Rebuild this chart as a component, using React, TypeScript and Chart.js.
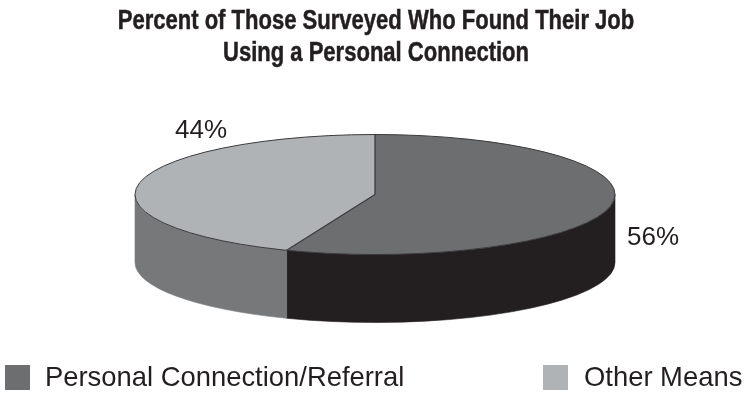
import React, { useEffect, useRef } from "react";
import { Chart, registerables } from "chart.js";

Chart.register(...registerables);

const categories = ["Personal Connection/Referral", "Other Means"];
const shares = [56, 44];
const titleLines = [
  "Percent of Those Surveyed Who Found Their Job",
  "Using a Personal Connection",
];

const topColors = ["#6d6e70", "#b0b3b5"];
const wallColors = ["#231f20", "#77787a"];
const outlineColor = "#3a3a3c";
const textColor = "#231f20";

const RADIUS = 240;
const SQUASH = 0.25;
const DEPTH = 68;
const FONT_FAMILY = '"Liberation Sans", Arial, sans-serif';

// Horizontal compression that gives the heading its condensed look.
const TITLE_CONDENSE = 0.816;
const titleBaselines = [29, 61];

// Offset of each percentage label from the pie's centre.
const labelOffsets = [
  { dx: 278, dy: 43 },
  { dx: -174, dy: -64 },
];
// Left edge of each legend swatch and of its text.
const legendSlots = [
  { box: 5, text: 45 },
  { box: 543, text: 584 },
];

// Side walls and outlines of the tilted pie, read from the arc elements.
const tiltedPie = {
  id: "tiltedPie",
  beforeDatasetsDraw(chart: any) {
    const { ctx } = chart;
    const arcs = chart.getDatasetMeta(0).data;
    arcs.forEach((arc: any, i: number) => {
      const a0 = Math.max(arc.startAngle, 0);
      const a1 = Math.min(arc.endAngle, Math.PI);
      if (a1 <= a0) return;
      const ry = arc.outerRadius * SQUASH;
      ctx.beginPath();
      ctx.ellipse(arc.x, arc.y, arc.outerRadius, ry, 0, a0, a1);
      ctx.ellipse(arc.x, arc.y + DEPTH, arc.outerRadius, ry, 0, a1, a0, true);
      ctx.closePath();
      ctx.fillStyle = wallColors[i];
      ctx.fill();
      ctx.strokeStyle = wallColors[i];
      ctx.lineWidth = 0.6;
      ctx.stroke();
    });
    const { x, y } = arcs[0];
    ctx.save();
    ctx.translate(x, y);
    ctx.scale(1, SQUASH);
    ctx.translate(-x, -y);
  },
  afterDatasetsDraw(chart: any) {
    const { ctx } = chart;
    ctx.restore();
    const arcs = chart.getDatasetMeta(0).data;
    const first = arcs[0];
    const ry = first.outerRadius * SQUASH;
    ctx.strokeStyle = outlineColor;
    ctx.lineWidth = 1;
    ctx.beginPath();
    ctx.ellipse(first.x, first.y, first.outerRadius, ry, 0, 0, Math.PI * 2);
    ctx.stroke();
    ctx.lineWidth = 1.3;
    ctx.beginPath();
    arcs.forEach((arc: any) => {
      ctx.moveTo(arc.x, arc.y);
      ctx.lineTo(
        arc.x + arc.outerRadius * Math.cos(arc.startAngle),
        arc.y + ry * Math.sin(arc.startAngle)
      );
    });
    ctx.stroke();

    // Condensed two-line heading
    ctx.save();
    ctx.fillStyle = textColor;
    ctx.strokeStyle = textColor;
    ctx.lineWidth = 0.5;
    ctx.font = `bold 27px ${FONT_FAMILY}`;
    ctx.textAlign = "center";
    ctx.textBaseline = "alphabetic";
    ctx.translate(first.x + 1, 0);
    ctx.scale(TITLE_CONDENSE, 1);
    titleLines.forEach((line, i) => {
      ctx.fillText(line, 0, titleBaselines[i]);
      ctx.strokeText(line, 0, titleBaselines[i]);
    });
    ctx.restore();

    // Percentage labels
    ctx.fillStyle = textColor;
    ctx.font = `26px ${FONT_FAMILY}`;
    ctx.textAlign = "center";
    ctx.textBaseline = "middle";
    arcs.forEach((arc: any, i: number) => {
      ctx.fillText(`${shares[i]}%`, arc.x + labelOffsets[i].dx, arc.y + labelOffsets[i].dy);
    });

    // Legend along the bottom edge
    ctx.font = `27.4px ${FONT_FAMILY}`;
    ctx.textAlign = "left";
    categories.forEach((name, i) => {
      ctx.fillStyle = topColors[i];
      ctx.fillRect(legendSlots[i].box, 365, 25, 25);
      ctx.fillStyle = textColor;
      ctx.fillText(name, legendSlots[i].text, 378);
    });
  },
};

export default function App() {
  const canvasRef = useRef<HTMLCanvasElement>(null);

  useEffect(() => {
    const chart = new Chart(canvasRef.current!, {
      type: "pie",
      data: {
        labels: categories,
        datasets: [
          {
            data: shares,
            backgroundColor: topColors,
            borderWidth: 0,
            radius: RADIUS,
          },
        ],
      },
      options: {
        responsive: false,
        animation: false,
        layout: { padding: { left: 6, top: 71, bottom: 75 } },
        plugins: {
          legend: { display: false },
          tooltip: { enabled: false },
          title: { display: false },
        },
      },
      plugins: [tiltedPie],
    } as any);
    return () => chart.destroy();
  }, []);

  return (
    <div style={{ position: "absolute", left: 0, top: 0 }}>
      <canvas ref={canvasRef} width={744} height={393} style={{ display: "block" }} />
    </div>
  );
}
